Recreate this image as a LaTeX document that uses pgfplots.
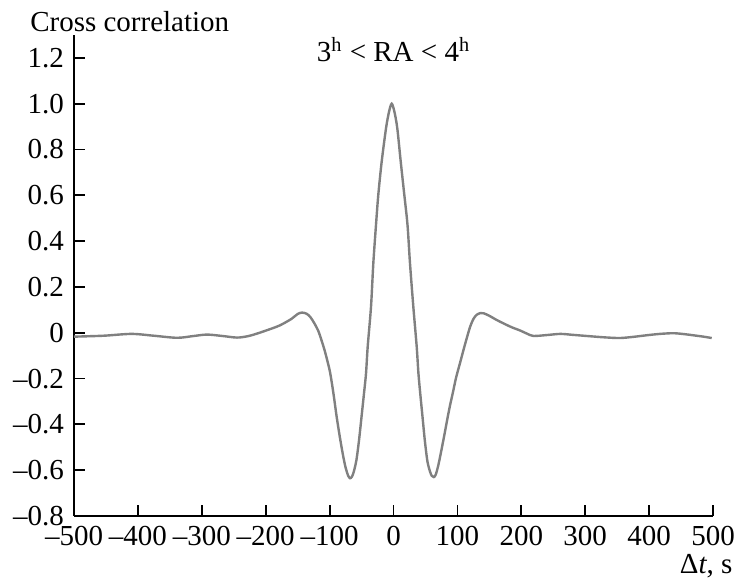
\documentclass[border=0pt]{standalone}
\usepackage{fontspec}
\setmainfont{Liberation Serif}
\usepackage{pgfplots}
\pgfplotsset{compat=1.18}
\definecolor{curve}{RGB}{128,128,128}
\begin{document}
\fontsize{14.5}{17}\selectfont
\begin{tikzpicture}
\useasboundingbox (-37pt,-33pt) rectangle (332pt,258pt);
\begin{axis}[
  scale only axis,
  width=319.5pt, height=240.5pt,
  xmin=-500, xmax=500, ymin=-0.8, ymax=1.3,
  axis x line=bottom, axis y line=left,
  axis line style={-, line width=0.9pt, black},
  tick align=inside,
  major tick length=5.5pt,
  tick style={line width=0.9pt, black},
  xtick={-500,-400,...,500},
  xticklabels={–500,–400,–300,–200,–100,0,100,200,300,400,500},
  ytick={-0.8,-0.6,-0.4,-0.2,0,0.2,0.4,0.6,0.8,1.0,1.2},
  yticklabels={–0.8,–0.6,–0.4,–0.2,0,0.2,0.4,0.6,0.8,1.0,1.2},
  ticklabel style={font=\fontsize{14.5}{17}\selectfont},
  clip=false,
]
\addplot[curve, line width=1.2pt, smooth, tension=0.5] coordinates {
(-500,-0.017) (-454,-0.013) (-410,-0.005) (-375,-0.013) (-339,-0.022)
(-315,-0.015) (-292,-0.008) (-268,-0.014) (-245,-0.021) (-228,-0.015)
(-214,-0.004) (-193,0.016) (-178,0.032) (-160,0.060) (-150,0.082)
(-143,0.088) (-136,0.083) (-130,0.068) (-124,0.042) (-118,0.010)
(-113,-0.030) (-108,-0.075) (-103,-0.128) (-99,-0.177) (-94,-0.265)
(-89,-0.366) (-84,-0.455) (-79,-0.535) (-75,-0.588) (-71,-0.624)
(-68,-0.635) (-65,-0.628) (-62,-0.605) (-58,-0.555) (-54,-0.470)
(-50,-0.366) (-46,-0.260) (-43,-0.177) (-40.4,-0.061)
(-35.2,0.114) (-31.6,0.303) (-27.4,0.471) (-23.8,0.602) (-18.5,0.747)
(-11.7,0.893) (-7,0.965) (-2.8,1.0) (1.4,0.965) (5.9,0.893)
(11.3,0.747) (16.9,0.602) (21.9,0.471) (25.8,0.303) (31,0.114)
(36.3,-0.061) (39,-0.177) (42,-0.27) (45.5,-0.37) (49,-0.47)
(53,-0.56) (57,-0.605) (60,-0.625) (63,-0.630) (66,-0.620)
(70,-0.580) (75,-0.512) (80,-0.440) (84,-0.380) (88,-0.323)
(93,-0.260) (98,-0.195) (104,-0.133) (110,-0.070) (115,-0.020)
(120,0.027) (125,0.060) (130,0.078) (136,0.086) (141,0.085)
(150,0.074) (160,0.058) (172,0.041) (185,0.024) (198,0.010)
(209,-0.004) (219,-0.014) (240,-0.010) (261,-0.005) (280,-0.009)
(302,-0.014) (330,-0.020) (354,-0.023) (375,-0.018) (396,-0.011)
(417,-0.005) (438,-0.002) (455,-0.006) (469,-0.011) (485,-0.017)
(498,-0.023)
};
\node[anchor=base west, inner sep=0pt] at (axis cs:-569,1.3135) {Cross correlation};
\node[anchor=base, inner sep=0pt] at (axis cs:0,1.183) {3\textsuperscript{h} < RA < 4\textsuperscript{h}};
\node[anchor=base east, inner sep=0pt] at (axis cs:531,-1.053) {Δ\textit{t}, s};
\end{axis}
\end{tikzpicture}
\end{document}
